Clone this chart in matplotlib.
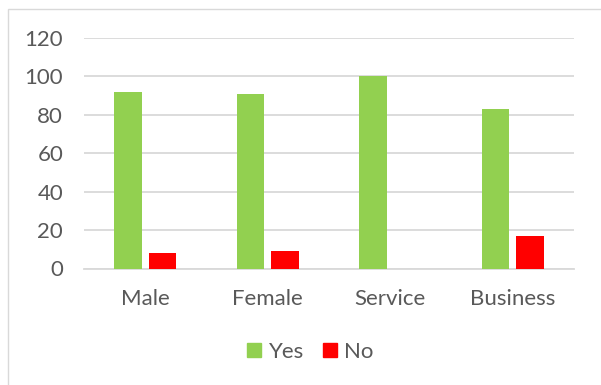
import matplotlib
matplotlib.use("Agg")
import matplotlib.pyplot as plt
import numpy as np
from matplotlib.lines import Line2D
from matplotlib.patches import Rectangle

plt.rcParams["font.family"] = ["Lato", "DejaVu Sans"]

categories = ["Male", "Female", "Service", "Business"]
yes_pct = [92, 91, 100, 83]
no_pct = [8, 9, 0, 17]
y_ticks = [0, 20, 40, 60, 80, 100, 120]

GREEN = "#92d050"
RED = "#ff0000"
GRID = "#d9d9d9"
TEXT = "#595959"
FS = 16

W, H = 601, 385
fig = plt.figure(figsize=(W / 100, H / 100), dpi=100)
fig.patch.set_facecolor("white")

# chart-area frame (left and top edges show)
fig.add_artist(Rectangle((7.5 / W, -0.05), 1.1, (H - 9) / H + 0.05,
                         transform=fig.transFigure, fill=False,
                         edgecolor=GRID, lw=1.0))

ax = fig.add_axes([84 / W, (H - 268.5) / H, 490 / W, (268.5 - 38) / H])
x = np.arange(len(categories))
bw = 0.224
off = 0.142
ax.bar(x - off, yes_pct, bw, color=GREEN, zorder=3)
ax.bar(x + off, no_pct, bw, color=RED, zorder=3)

ax.set_xlim(-0.5, len(categories) - 0.5)
ax.set_ylim(0, 120)
ax.set_yticks(y_ticks)
ax.set_xticks(x)
ax.set_xticklabels(categories)
ax.yaxis.grid(True, color=GRID, lw=1.3, zorder=0)
ax.set_axisbelow(True)
for s in ("top", "right", "left"):
    ax.spines[s].set_visible(False)
ax.spines["bottom"].set_color(GRID)
ax.spines["bottom"].set_linewidth(1.3)
ax.tick_params(axis="y", length=0, pad=15, labelsize=FS, labelcolor=TEXT)
ax.tick_params(axis="x", length=0, pad=15, labelsize=FS, labelcolor=TEXT)

handles = [Line2D([], [], ls="", marker="s", ms=9.5, color=GREEN),
           Line2D([], [], ls="", marker="s", ms=9.5, color=RED)]
fig.legend(handles, ["Yes", "No"], loc="center",
           bbox_to_anchor=(310 / W, (H - 352) / H), ncol=2, frameon=False,
           fontsize=FS, labelcolor=TEXT, handlelength=0.7,
           handletextpad=0.3, columnspacing=0.8)

fig.savefig("out.png", dpi=100)
